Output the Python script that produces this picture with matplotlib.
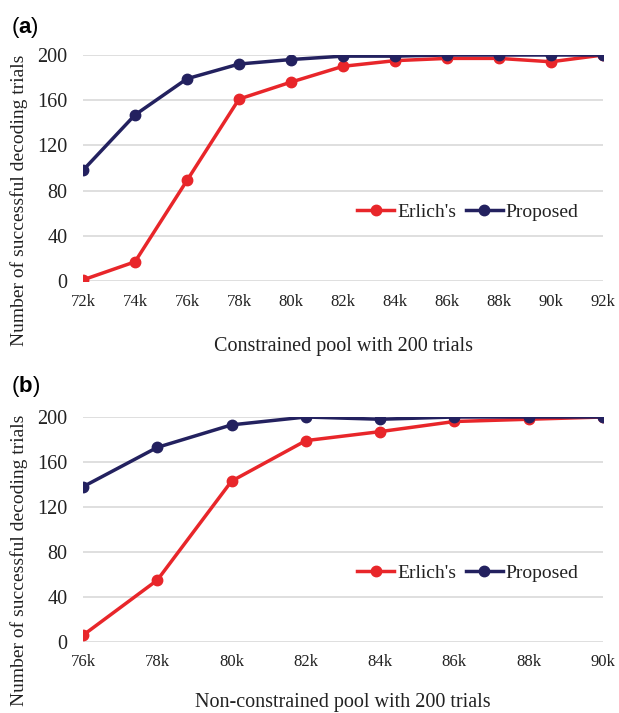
import matplotlib.pyplot as plt

plt.switch_backend('Agg')
plt.rcParams['font.family'] = ['Liberation Serif', 'DejaVu Serif']
plt.rcParams['mathtext.fontset'] = 'custom'
plt.rcParams['mathtext.bf'] = 'Liberation Sans:bold'

# panel (a): constrained pool
x_a = ['72k', '74k', '76k', '78k', '80k', '82k', '84k', '86k', '88k', '90k', '92k']
erlich_a = [1, 17, 89, 161, 176, 190, 195, 197, 197, 194, 200]
proposed_a = [98, 147, 179, 192, 196, 199, 199, 200, 200, 200, 200]

# panel (b): non-constrained pool
x_b = ['76k', '78k', '80k', '82k', '84k', '86k', '88k', '90k']
erlich_b = [6, 55, 143, 179, 187, 196, 198, 200]
proposed_b = [138, 173, 193, 200, 198, 200, 200, 200]

y_ticks = [0, 40, 80, 120, 160, 200]
red = '#E8262A'
navy = '#23215F'
txt = '#222222'

fig = plt.figure(figsize=(6.19, 7.13), dpi=100)
W, H = 619, 713


def panel(rect, xlabels, erl, prop, xlabel, letter, letter_y, ylab_y, xpad):
    ax = fig.add_axes(rect)
    xs = range(len(xlabels))
    ax.plot(xs, erl, color=red, lw=2.5, marker='o', ms=7.5, label="Erlich's", zorder=3)
    ax.plot(xs, prop, color=navy, lw=2.5, marker='o', ms=7.5, label='Proposed', zorder=4)
    ax.set_xlim(0, len(xlabels) - 1)
    ax.set_ylim(0, 200)
    ax.set_xticks(list(xs))
    ax.set_xticklabels(xlabels)
    ax.set_yticks(y_ticks)
    ax.tick_params(length=0, colors=txt)
    ax.tick_params(axis='x', labelsize=12, pad=9)
    ax.tick_params(axis='y', labelsize=14.5, pad=11)
    for s in ax.spines.values():
        s.set_visible(False)
    ax.grid(axis='y', color='#D9D9D9', lw=1.2)
    ax.set_axisbelow(True)
    ax.set_xlabel(xlabel, fontsize=14.5, color=txt, labelpad=xpad)
    ax.legend(loc='center', bbox_to_anchor=(0.74, 0.305), ncol=2, frameon=False,
              fontsize=14, handlelength=1.9, handletextpad=0.15, columnspacing=0.5,
              borderpad=0, labelcolor=txt)
    fig.text(11 / W, 1 - letter_y / H, letter, fontsize=16, va='center', ha='left',
             family=['Liberation Sans'])
    fig.text(19 / W, 1 - ylab_y / H, 'Number of successful decoding trials',
             rotation=90, fontsize=14, va='center', ha='center', color=txt)
    return ax


panel([83 / W, 1 - 281 / H, 520 / W, 226 / H], x_a, erlich_a, proposed_a,
      'Constrained pool with 200 trials', r'($\mathbf{a}$)', 27, 200, 20)
panel([83 / W, 1 - 642 / H, 520 / W, 225 / H], x_b, erlich_b, proposed_b,
      'Non-constrained pool with 200 trials', r'($\mathbf{b}$)', 387, 560, 16)

fig.savefig('out.png', dpi=100)
